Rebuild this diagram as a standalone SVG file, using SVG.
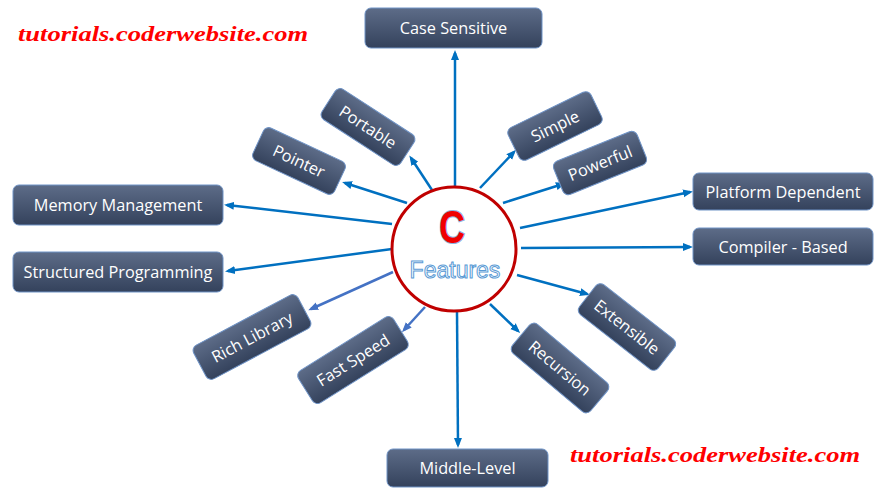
<svg xmlns="http://www.w3.org/2000/svg" width="886" height="497" viewBox="0 0 886 497">
  <defs>
    <linearGradient id="boxg" x1="0" y1="0" x2="0" y2="1">
      <stop offset="0" stop-color="#5D6C88"/>
      <stop offset="1" stop-color="#34425C"/>
    </linearGradient>
    <marker id="ah" viewBox="0 0 10 10" refX="7" refY="5" markerUnits="userSpaceOnUse" markerWidth="10" markerHeight="10" orient="auto">
      <path d="M0,1 L10,5 L0,9 z" fill="#0070C0"/>
    </marker>
    <marker id="ah2" viewBox="0 0 10 10" refX="7" refY="5" markerUnits="userSpaceOnUse" markerWidth="10" markerHeight="10" orient="auto">
      <path d="M0,1 L10,5 L0,9 z" fill="#4472C4"/>
    </marker>
  </defs>
  <style>
    .box { fill: url(#boxg); stroke: #6F93C6; stroke-width: 1; }
    .lbl { font-family: "Open Sans", "Noto Sans", sans-serif; font-size: 16.3px; fill: #FFFFFF; text-anchor: middle; }
    .con { stroke: #0070C0; stroke-width: 2.5; fill: none; marker-end: url(#ah); }
    .con2 { stroke: #4472C4; stroke-width: 2.5; fill: none; marker-end: url(#ah2); }
    .wm { font-family: "Liberation Serif", serif; font-style: italic; font-weight: bold; font-size: 22px; fill: #FF0000; }
  </style>
  <rect width="886" height="497" fill="#FFFFFF"/>

  <g id="connectors">
    <line class="con" x1="455" y1="186" x2="455" y2="53"/>
    <line class="con" x1="432" y1="190" x2="411" y2="158"/>
    <line class="con" x1="407" y1="203" x2="345" y2="183"/>
    <line class="con" x1="392" y1="224" x2="227" y2="205"/>
    <line class="con" x1="392" y1="249" x2="228" y2="271"/>
    <line class="con2" x1="393" y1="272" x2="311" y2="309"/>
    <line class="con2" x1="425" y1="307" x2="404" y2="330"/>
    <line class="con" x1="457" y1="312" x2="458" y2="445"/>
    <line class="con" x1="490" y1="304" x2="518" y2="331"/>
    <line class="con" x1="517" y1="275" x2="587" y2="294"/>
    <line class="con" x1="521" y1="248" x2="690" y2="247"/>
    <line class="con" x1="520" y1="228" x2="690" y2="192"/>
    <line class="con" x1="503" y1="203" x2="563" y2="184"/>
    <line class="con" x1="480" y1="188" x2="514" y2="152"/>
  </g>

  <g id="center">
    <circle cx="454" cy="249" r="62" fill="#FFFFFF" stroke="#C00000" stroke-width="3"/>
    <text transform="translate(452,243) scale(0.78,1)" text-anchor="middle" font-family="Liberation Sans, Arial, sans-serif" font-weight="bold" font-size="46" fill="#F00000" stroke="#8DB4E2" stroke-width="2" paint-order="stroke">C</text>
    <text x="455" y="278" text-anchor="middle" font-family="Liberation Sans, Arial, sans-serif" font-size="23" fill="#FFFFFF" stroke="#5B9BD5" stroke-width="1">Features</text>
  </g>

  <g id="case-sensitive">
    <rect class="box" x="365" y="8" width="177" height="40" rx="6"/>
    <text class="lbl" x="453.5" y="34">Case Sensitive</text>
  </g>
  <g id="memory-management">
    <rect class="box" x="13" y="185" width="210" height="40" rx="6"/>
    <text class="lbl" x="118" y="211">Memory Management</text>
  </g>
  <g id="structured-programming">
    <rect class="box" x="13" y="252" width="210" height="40" rx="6"/>
    <text class="lbl" x="118" y="278">Structured Programming</text>
  </g>
  <g id="platform-dependent">
    <rect class="box" x="693" y="173" width="180" height="37" rx="6"/>
    <text class="lbl" x="783" y="197.5">Platform Dependent</text>
  </g>
  <g id="compiler-based">
    <rect class="box" x="693" y="228" width="180" height="37" rx="6"/>
    <text class="lbl" x="783" y="252.5">Compiler - Based</text>
  </g>
  <g id="middle-level">
    <rect class="box" x="387" y="449" width="161" height="38" rx="6"/>
    <text class="lbl" x="467.5" y="474">Middle-Level</text>
  </g>

  <g id="portable" transform="translate(368,127) rotate(33)">
    <rect class="box" x="-47" y="-18" width="94" height="36" rx="6"/>
    <text class="lbl" x="0" y="6">Portable</text>
  </g>
  <g id="pointer" transform="translate(299,161) rotate(25)">
    <rect class="box" x="-45" y="-18" width="90" height="36" rx="6"/>
    <text class="lbl" x="0" y="6">Pointer</text>
  </g>
  <g id="simple" transform="translate(555,126) rotate(-26)">
    <rect class="box" x="-46" y="-18" width="92" height="36" rx="6"/>
    <text class="lbl" x="0" y="6">Simple</text>
  </g>
  <g id="powerful" transform="translate(600,163) rotate(-22)">
    <rect class="box" x="-45" y="-18" width="90" height="36" rx="6"/>
    <text class="lbl" x="0" y="6">Powerful</text>
  </g>
  <g id="rich-library" transform="translate(252,337) rotate(-28)">
    <rect class="box" x="-59" y="-19" width="118" height="38" rx="6"/>
    <text class="lbl" x="0" y="6">Rich Library</text>
  </g>
  <g id="fast-speed" transform="translate(353,360) rotate(-32)">
    <rect class="box" x="-56" y="-19" width="112" height="38" rx="6"/>
    <text class="lbl" x="0" y="6">Fast Speed</text>
  </g>
  <g id="recursion" transform="translate(560,368) rotate(40)">
    <rect class="box" x="-51" y="-19" width="102" height="38" rx="6"/>
    <text class="lbl" x="0" y="6">Recursion</text>
  </g>
  <g id="extensible" transform="translate(627,327) rotate(38)">
    <rect class="box" x="-50" y="-19" width="100" height="38" rx="6"/>
    <text class="lbl" x="0" y="6">Extensible</text>
  </g>

  <text class="wm" x="18" y="41" textLength="290" lengthAdjust="spacingAndGlyphs">tutorials.coderwebsite.com</text>
  <text class="wm" x="570" y="462" textLength="290" lengthAdjust="spacingAndGlyphs">tutorials.coderwebsite.com</text>
</svg>
